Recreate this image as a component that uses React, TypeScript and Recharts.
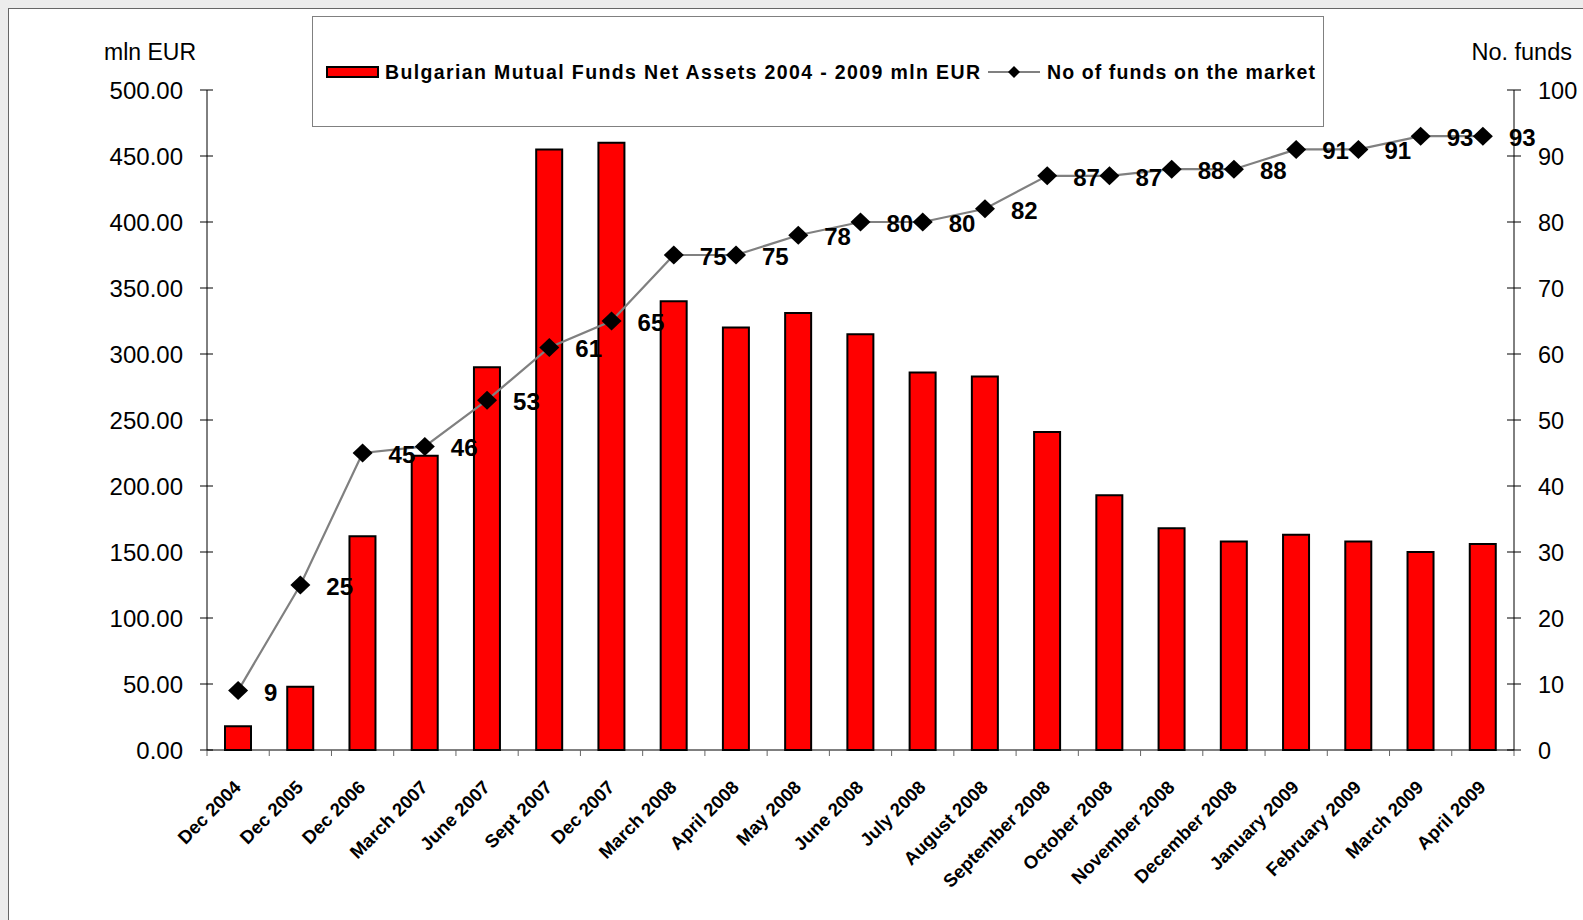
import React from 'react';
import { Bar, ComposedChart, LabelList, Line, XAxis, YAxis } from 'recharts';

const categories = [
  'Dec 2004', 'Dec 2005', 'Dec 2006', 'March 2007', 'June 2007', 'Sept 2007', 'Dec 2007',
  'March 2008', 'April 2008', 'May 2008', 'June 2008', 'July 2008', 'August 2008',
  'September 2008', 'October 2008', 'November 2008', 'December 2008', 'January 2009',
  'February 2009', 'March 2009', 'April 2009',
];
const netAssets = [
  18, 48, 162, 223, 290, 455, 460, 340, 320, 331, 315, 286, 283, 241, 193, 168, 158, 163, 158, 150, 156,
];
const fundCounts = [9, 25, 45, 46, 53, 61, 65, 75, 75, 78, 80, 80, 82, 87, 87, 88, 88, 91, 91, 93, 93];
const assetTicks = [0, 50, 100, 150, 200, 250, 300, 350, 400, 450, 500];
const fundTicks = [0, 10, 20, 30, 40, 50, 60, 70, 80, 90, 100];

const data = categories.map((period, i) => ({ period, assets: netAssets[i], funds: fundCounts[i] }));

const FONT = '"Liberation Sans", Arial, sans-serif';
const CHART_W = 1574;
const CHART_H = 911;
const LEFT_W = 198;
const RIGHT_W = 69;
const X_H = 170;
const TOP = 81;
const BAND = (CHART_W - LEFT_W - RIGHT_W) / categories.length;

const LeftTick = (props: any) => {
  const { x, y, payload } = props;
  return (
    <g>
      <line x1={x - 7} x2={x + 6} y1={y} y2={y} stroke="#000" />
      <text x={x - 24} y={y + 9} textAnchor="end" fontSize={24} fontFamily={FONT} fill="#000">
        {Number(payload.value).toFixed(2)}
      </text>
    </g>
  );
};

const RightTick = (props: any) => {
  const { x, y, payload } = props;
  return (
    <g>
      <line x1={x - 7} x2={x + 7} y1={y} y2={y} stroke="#000" />
      <text x={x + 24} y={y + 9} textAnchor="start" fontSize={23.5} fontFamily={FONT} fill="#000">
        {payload.value}
      </text>
    </g>
  );
};

const CategoryTick = (props: any) => {
  const { x, y, payload, index } = props;
  const left = x - BAND / 2;
  const tx = x + 4;
  const ty = y + 38.5;
  return (
    <g>
      <line x1={left} x2={left} y1={y} y2={y + 6} stroke="#666" />
      {index === categories.length - 1 && (
        <line x1={x + BAND / 2} x2={x + BAND / 2} y1={y} y2={y + 6} stroke="#666" />
      )}
      <text
        x={tx}
        y={ty}
        textAnchor="end"
        fontSize={18.5}
        fontWeight="bold"
        fontFamily={FONT}
        fill="#000"
        transform={`rotate(-45 ${tx} ${ty})`}
      >
        {payload.value}
      </text>
    </g>
  );
};

const Diamond = (props: any) => {
  const { cx, cy } = props;
  if (cx == null || cy == null) return null;
  return <path d={`M${cx},${cy - 9.5} L${cx + 10},${cy} L${cx},${cy + 9.5} L${cx - 10},${cy} Z`} fill="#000" />;
};

const FundLabel = (props: any) => {
  const { x, y, value } = props;
  return (
    <text x={x + 26} y={y + 10} fontSize={24} fontWeight="bold" fontFamily={FONT} fill="#000">
      {value}
    </text>
  );
};

export default function App() {
  return (
    <div style={{ position: 'fixed', left: 0, top: 0, width: 1583, height: 920, background: '#ececec' }}>
      <div
        style={{
          position: 'absolute',
          left: 8,
          top: 8,
          width: CHART_W,
          height: CHART_H,
          borderLeft: '1px solid #666',
          borderTop: '1px solid #666',
          background: '#fff',
        }}
      >
        <ComposedChart width={CHART_W} height={CHART_H} data={data} margin={{ top: TOP, right: 0, bottom: 0, left: 0 }}>
          <XAxis
            dataKey="period"
            height={X_H}
            interval={0}
            tickSize={0}
            tickMargin={0}
            tickLine={false}
            stroke="#000"
            tick={<CategoryTick />}
          />
          <YAxis
            yAxisId="assets"
            orientation="left"
            width={LEFT_W}
            domain={[0, 500]}
            ticks={assetTicks}
            tickSize={0}
            tickMargin={0}
            tickLine={false}
            stroke="#000"
            tick={<LeftTick />}
          />
          <YAxis
            yAxisId="funds"
            orientation="right"
            width={RIGHT_W}
            domain={[0, 100]}
            ticks={fundTicks}
            tickSize={0}
            tickMargin={0}
            tickLine={false}
            stroke="#000"
            tick={<RightTick />}
          />
          <Bar yAxisId="assets" dataKey="assets" fill="#ff0000" stroke="#000" strokeWidth={2} barSize={26} isAnimationActive={false} />
          <Line
            yAxisId="funds"
            dataKey="funds"
            stroke="#808080"
            strokeWidth={2.2}
            dot={<Diamond />}
            activeDot={false}
            isAnimationActive={false}
          >
            <LabelList dataKey="funds" content={<FundLabel />} />
          </Line>
        </ComposedChart>
        <svg width={CHART_W} height={CHART_H} style={{ position: 'absolute', left: 0, top: 0, pointerEvents: 'none' }}>
          <text x={95} y={51} fontSize={23} fontFamily={FONT} fill="#000">mln EUR</text>
          <text x={1563} y={51} textAnchor="end" fontSize={23.5} fontFamily={FONT} fill="#000">No. funds</text>
          <rect x={303.5} y={7.5} width={1011} height={110} fill="#fff" stroke="#808080" />
          <rect x={318} y={58} width={51} height={10} fill="#ff0000" stroke="#000" strokeWidth={2} />
          <text x={376} y={69.5} fontSize={19.5} fontWeight="bold" fontFamily={FONT} fill="#000" textLength={595} lengthAdjust="spacing">
            Bulgarian Mutual Funds Net Assets 2004 - 2009 mln EUR
          </text>
          <line x1={979} x2={1031} y1={63} y2={63} stroke="#808080" strokeWidth={2} />
          <path d="M1005,57 L1011,63 L1005,69 L999,63 Z" fill="#000" />
          <text x={1038} y={69.5} fontSize={19.5} fontWeight="bold" fontFamily={FONT} fill="#000" textLength={268} lengthAdjust="spacing">
            No of funds on the market
          </text>
        </svg>
      </div>
    </div>
  );
}
